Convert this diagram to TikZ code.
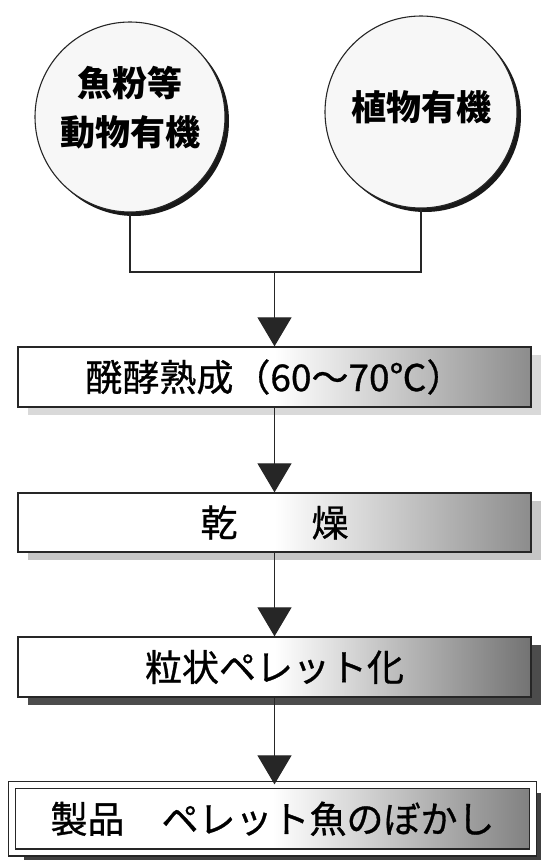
\documentclass[tikz,border=0pt]{standalone}
\usepackage{fontspec}
\newfontfamily\jp{Noto Sans CJK JP}
\newfontfamily\jpm[FakeBold=0.8]{Noto Sans CJK JP}
\usetikzlibrary{arrows.meta,shadows}
\begin{document}
\begin{tikzpicture}[x=1pt,y=-1pt,
  conn/.style={draw=black!85, line width=1.1pt},
  flow/.style={conn, -{Triangle[width=34pt,length=29pt]}},
  circ/.style={circle, draw=black!85, line width=1.1pt, fill=gray!6,
    minimum size=190pt, inner sep=0pt,
    general shadow={shadow xshift=4pt, shadow yshift=-4pt, fill=black!90}},
  circtext/.style={font=\jp\bfseries\fontsize{35}{49}\selectfont, align=center, inner sep=0pt},
  procbox/.style={rectangle, draw=black!85, line width=1.3pt,
    minimum width=513pt, minimum height=60pt, inner sep=0pt,
    left color=white, right color=black!45, middle color=white,
    font=\jpm\fontsize{37}{40}\selectfont},
]
\useasboundingbox (0,0) rectangle (541,860);

\node[circ, label={[circtext, yshift=9pt]center:{魚粉等\\動物有機}}] (c1) at (130,117) {};
\node[circ, minimum size=192pt, label={[circtext, yshift=5pt]center:{植物有機}}] (c2) at (421,112) {};

\node[procbox, general shadow={shadow xshift=10pt, shadow yshift=-8pt, fill=gray!30}] (b1) at (274.5,377) {醗酵熟成（60～70℃）};
\node[procbox, minimum height=59pt, general shadow={shadow xshift=10pt, shadow yshift=-8pt, fill=gray!45}] (b2) at (274.5,522.5) {乾　　燥};
\node[procbox, right color=black!55, middle color=white, general shadow={shadow xshift=10pt, shadow yshift=-8pt, fill=black!70}] (b3) at (274.5,667) {粒状ペレット化};
\node[procbox, double=white, double distance=5.5pt, minimum width=521pt, minimum height=67.5pt,
  right color=black!50, middle color=white,
  general shadow={shadow xshift=12pt, shadow yshift=-8pt, fill=black!75}] (b4) at (272.5,818.75) {製品　ペレット魚のぼかし};

\coordinate (j) at (274.5,272);
\draw[conn] (c1.south) |- (j);
\draw[conn] (c2.south) |- (j);
\draw[flow] (j) -- (b1.north);
\draw[flow] (b1.south) -- (b2.north);
\draw[flow] (b2.south) -- (b3.north);
\draw[flow] (b3.south) -- (b3.south |- b4.north);
\end{tikzpicture}
\end{document}
